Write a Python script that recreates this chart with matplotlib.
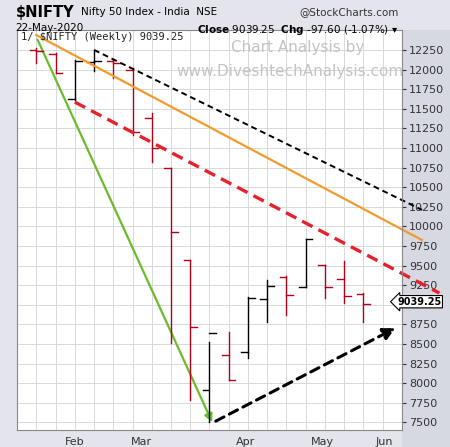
import matplotlib.pyplot as plt
from matplotlib.patches import FancyArrowPatch

# weekly OHLC, $NIFTY, Jan-May 2020
opens  = [12255, 12200, 11625, 12095, 12110, 11995, 11380, 10745, 9570, 7915, 8360, 8400, 9075, 9355, 9225, 9510, 9330, 9140]
highs  = [12275, 12210, 12120, 12250, 12120, 12020, 11445, 10745, 9570, 8525, 8655, 9100, 9315, 9365, 9840, 9510, 9560, 9150]
lows   = [12085, 11955, 11610, 11980, 11890, 11165, 10820, 8510, 7785, 7511, 8040, 8320, 8780, 8870, 9225, 9085, 9020, 8780]
closes = [12240, 11955, 12110, 12110, 12080, 11200, 11000, 9930, 8720, 8640, 8040, 9085, 9240, 9125, 9840, 9225, 9110, 9010]
month_labels = ["Feb", "Mar", "Apr", "May", "Jun"]
month_pos = [1.98, 5.45, 10.9, 14.85, 18.1]
yticks = list(range(7500, 12251, 250))
last_close = 9039.25

fig = plt.figure(figsize=(4.5, 4.47), dpi=100)
fig.patch.set_facecolor("#e4e4ec")
# right axis panel
panel = plt.Rectangle((0.893, 0.0), 0.107, 0.933, transform=fig.transFigure,
                      facecolor="#d6d8e2", edgecolor="none", zorder=-5)
fig.patches.append(panel)
ax = fig.add_axes([0.038, 0.038, 0.855, 0.895])
ax.set_facecolor("white")
ax.set_xlim(-0.5, 18.56)
ax.set_ylim(7403, 12505)

for i in range(len(opens)):
    c = "black" if closes[i] >= opens[i] else "#b0001a"
    ax.plot([i, i], [lows[i], highs[i]], color=c, lw=1)
    ax.plot([i - 0.35, i], [opens[i], opens[i]], color=c, lw=1)
    ax.plot([i, i + 0.35], [closes[i], closes[i]], color=c, lw=1)

ax.set_yticks(yticks)
ax.set_yticklabels(["" if t == 9000 else str(t) for t in yticks])
ax.set_xticks(range(-1, 20), minor=False)
ax.grid(True, color="#d8d8e0", lw=0.7)
ax.set_axisbelow(True)
ax.tick_params(axis="x", length=0, labelbottom=False)
ax.yaxis.tick_right()
ax.tick_params(axis="y", length=3, labelsize=8, colors="#333333", pad=2)
for s in ax.spines.values():
    s.set_color("#888888")
for lab, p in zip(month_labels, month_pos):
    ax.text(p, 7403 - 90, lab, ha="center", va="top", fontsize=8, color="#333333", clip_on=False)

# trend lines
ax.plot([0, 20.05], [12440, 9825], color="#f39a2a", lw=1.6, clip_on=False)
ax.plot([3, 20.05], [12250, 10210], color="black", lw=1.4, ls=(0, (3, 2)), clip_on=False)
ax.plot([2, 20.95], [11585, 9150], color="#e8202a", lw=2.4, ls=(0, (3.5, 2)), clip_on=False)
ax.add_patch(FancyArrowPatch((0, 12415), (9.2, 7470), arrowstyle="-|>", mutation_scale=12,
                             color="#6cbb2c", lw=1.6, clip_on=False))
ax.add_patch(FancyArrowPatch((9.2, 7500), (18.8, 8720), arrowstyle="-|>", mutation_scale=18,
                             color="black", lw=2.2, ls=(0, (3, 2)), clip_on=False))

ax.text(18.75, last_close, f"{last_close:.2f}", fontsize=7, fontweight="bold", va="center",
        ha="left", clip_on=False, zorder=10,
        bbox=dict(boxstyle="larrow,pad=0.12", fc="white", ec="black", lw=0.8))

ax.text(0.01, 0.995, "1/ $NIFTY (Weekly) 9039.25", transform=ax.transAxes, fontsize=7.5,
        family="DejaVu Sans Mono", va="top", color="#222222")
ax.text(0.73, 0.975, "Chart Analysis by", transform=ax.transAxes, fontsize=11,
        color="#c4c4c4", ha="center", va="top")
ax.text(0.71, 0.915, "www.DiveshtechAnalysis.com", transform=ax.transAxes, fontsize=11,
        color="#c4c4c4", ha="center", va="top")

fig.text(0.035, 0.988, "$NIFTY", fontsize=10.5, fontweight="bold", va="top")
fig.text(0.18, 0.985, "Nifty 50 Index - India  NSE", fontsize=7.5, va="top")
fig.text(0.035, 0.948, "22-May-2020", fontsize=7.5, va="top")
fig.text(0.885, 0.985, "@StockCharts.com", fontsize=7.5, va="top", ha="right", color="#333333")
fig.text(0.885, 0.948, r"$\bf{Close}$ 9039.25  $\bf{Chg}$ -97.60 (-1.07%) ▾", fontsize=7.5,
         va="top", ha="right")

fig.savefig("out.png", dpi=100, facecolor=fig.get_facecolor())
